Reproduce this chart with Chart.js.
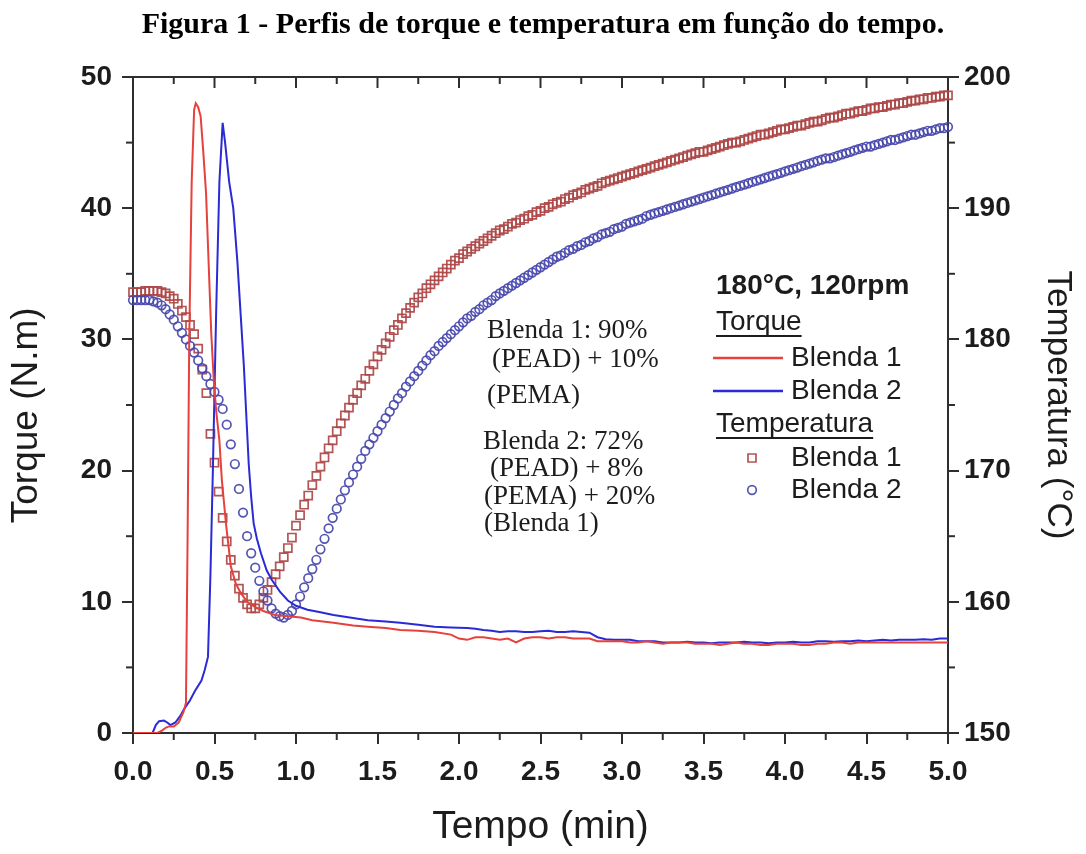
<!DOCTYPE html>
<html><head><meta charset="utf-8">
<script src="https://cdn.jsdelivr.net/npm/chart.js@4.4.1/dist/chart.umd.min.js"></script>
<style>html,body{margin:0;padding:0;background:#fff;}canvas{display:block;}</style>
</head><body>
<canvas id="c" width="1086" height="854"></canvas>
<script>
// ---------- DATA ----------
// Torque (N.m) – Blenda 1
const torqueB1Time = [0,0.15,0.18,0.2,0.22,0.25,0.28,0.31,0.325,0.335,0.345,0.36,0.375,0.385,0.4,0.415,0.43,0.448,0.465,0.48,0.495,0.51,0.53,0.545,0.57,0.6,0.63,0.66,0.7,0.75,0.8,0.87,0.95,1.03,1.1,1.23,1.35,1.44,1.55,1.64,1.75,1.85,1.95,
2.0,2.05,2.1,2.15,2.2,2.25,2.3,2.35,2.4,2.45,2.5,2.55,2.6,2.65,2.7,2.75,2.8,2.85,2.9,2.95,3.0,3.05,3.1,3.15,3.2,3.25,3.3,3.35,3.4,3.45,3.5,3.55,3.6,3.65,3.7,3.75,3.8,3.85,3.9,3.95,4.0,4.05,4.1,4.15,4.2,4.25,4.3,4.35,4.4,4.45,4.5,4.55,4.6,4.65,4.7,4.75,4.8,4.85,4.9,4.95,5.0];
const torqueB1 = [0,0,0.2,0.4,0.5,0.5,0.8,1.6,2.3,15,30,42,47.5,48.0,47.7,47.0,44.5,41.2,35.5,30.5,27,24.6,22.3,19.3,16.0,12.7,11.4,10.7,10.0,9.6,9.3,9.0,8.9,8.8,8.6,8.4,8.2,8.1,8.0,7.85,7.8,7.7,7.5,
7.2,7.1,7.3,7.3,7.2,7.1,7.2,6.9,7.2,7.3,7.3,7.2,7.3,7.3,7.2,7.2,7.2,7.0,7.0,7.0,7.0,6.9,6.9,7.0,6.9,6.8,6.9,6.9,6.9,6.8,6.8,6.8,6.7,6.8,6.9,6.8,6.8,6.7,6.7,6.8,6.8,6.8,6.7,6.7,6.8,6.8,6.9,6.9,6.8,6.9,6.9,6.9,6.9,6.9,6.9,6.9,6.9,6.9,6.9,6.9,6.9];
// Torque (N.m) – Blenda 2
const torqueB2Time = [0,0.12,0.14,0.16,0.19,0.21,0.23,0.26,0.29,0.31,0.35,0.38,0.42,0.44,0.46,0.475,0.49,0.51,0.53,0.55,0.565,0.59,0.615,0.64,0.66,0.68,0.7,0.71,0.725,0.74,0.76,0.785,0.82,0.85,0.9,0.95,1.0,1.07,1.15,1.23,1.33,1.44,1.55,1.64,1.75,1.85,1.95,
2.05,2.1,2.15,2.2,2.25,2.3,2.35,2.4,2.45,2.5,2.55,2.6,2.65,2.7,2.75,2.8,2.85,2.9,2.95,3.0,3.05,3.1,3.15,3.2,3.25,3.3,3.35,3.4,3.45,3.5,3.55,3.6,3.65,3.7,3.75,3.8,3.85,3.9,3.95,4.0,4.05,4.1,4.15,4.2,4.25,4.3,4.35,4.4,4.45,4.5,4.55,4.6,4.65,4.7,4.75,4.8,4.85,4.9,4.95,5.0];
const torqueB2 = [0,0,0.6,0.9,0.95,0.8,0.6,0.8,1.3,1.75,2.5,3.2,4.0,4.8,5.8,12,20,32,42,46.5,45.0,42.0,40.0,36,32,28,23,20.5,18,16.0,14.8,13.7,12.4,11.7,10.8,10.1,9.7,9.4,9.2,9.0,8.8,8.6,8.5,8.4,8.25,8.1,8.05,
8.0,7.95,7.85,7.8,7.7,7.75,7.75,7.7,7.7,7.75,7.8,7.7,7.7,7.75,7.7,7.65,7.3,7.15,7.1,7.1,7.1,7.0,7.0,7.0,6.9,6.9,6.9,6.95,6.9,6.9,6.85,6.9,6.9,6.9,6.95,6.9,6.9,6.85,6.9,6.9,6.95,6.9,6.9,7.0,7.0,6.95,7.0,7.0,7.05,7.0,7.05,7.1,7.05,7.1,7.1,7.1,7.15,7.1,7.2,7.2];
// Temperatura (°C) sampled every 0.025 min from 0 to 5 min
const tempTime = Array.from({length:201}, (_, i) => i * 0.025);
const tempB1 = [183.6,183.6,183.6,183.7,183.7,183.7,183.7,183.6,183.5,183.3,
183.1,182.7,182.2,181.7,181.1,180.4,179.3,177.7,175.9,172.8,
170.6,168.4,166.4,164.6,163.2,162.0,161.0,160.3,159.8,159.5,
159.5,159.8,160.3,160.9,161.5,162.1,162.7,163.4,164.1,164.9,
165.8,166.6,167.4,168.1,168.9,169.6,170.3,171.0,171.7,172.3,
173.0,173.6,174.2,174.8,175.4,175.9,176.5,177.0,177.6,178.1,
178.7,179.2,179.7,180.2,180.7,181.1,181.6,182.0,182.4,182.8,
183.2,183.5,183.9,184.2,184.5,184.8,185.1,185.4,185.7,186.0,
186.2,186.5,186.7,186.9,187.1,187.3,187.5,187.7,187.9,188.1,
188.3,188.4,188.6,188.8,188.9,189.1,189.2,189.4,189.5,189.7,
189.8,190.0,190.1,190.3,190.4,190.5,190.7,190.8,191.0,191.1,
191.2,191.4,191.5,191.6,191.7,191.9,192.0,192.1,192.2,192.3,
192.4,192.5,192.6,192.7,192.8,192.9,193.0,193.1,193.2,193.3,
193.4,193.5,193.6,193.7,193.8,193.9,194.0,194.1,194.2,194.3,
194.3,194.4,194.5,194.6,194.7,194.8,194.9,195.0,195.0,195.1,
195.2,195.3,195.4,195.5,195.6,195.6,195.7,195.8,195.9,196.0,
196.0,196.1,196.2,196.3,196.3,196.4,196.5,196.6,196.6,196.7,
196.8,196.9,196.9,197.0,197.1,197.2,197.2,197.3,197.4,197.4,
197.5,197.6,197.6,197.7,197.7,197.8,197.9,197.9,198.0,198.0,
198.1,198.2,198.2,198.3,198.3,198.4,198.4,198.5,198.5,198.6,
198.6];
const tempB2 = [183.0,183.0,183.0,183.0,183.0,182.9,182.8,182.6,182.3,181.9,
181.5,181.0,180.5,180.0,179.5,179.0,178.4,177.8,177.2,176.6,
176.0,175.4,174.7,173.5,172.0,170.5,168.6,166.8,165.0,163.7,
162.6,161.6,160.8,160.1,159.5,159.1,158.9,158.8,159.0,159.3,
159.8,160.4,161.1,161.8,162.5,163.2,164.0,164.8,165.6,166.4,
167.1,167.8,168.5,169.1,169.7,170.3,170.9,171.5,172.0,172.5,
173.0,173.5,174.0,174.5,175.0,175.5,175.9,176.4,176.8,177.2,
177.6,178.0,178.4,178.8,179.1,179.5,179.8,180.1,180.4,180.7,
181.0,181.3,181.6,181.8,182.1,182.3,182.6,182.8,183.0,183.3,
183.5,183.7,183.9,184.1,184.3,184.5,184.7,184.9,185.1,185.3,
185.5,185.7,185.9,186.1,186.3,186.4,186.6,186.8,186.9,187.1,
187.2,187.4,187.5,187.7,187.8,188.0,188.1,188.2,188.4,188.5,
188.6,188.8,188.9,189.0,189.1,189.2,189.4,189.5,189.6,189.7,
189.8,189.9,190.0,190.1,190.2,190.3,190.4,190.5,190.6,190.7,
190.8,190.9,191.0,191.1,191.2,191.3,191.4,191.5,191.6,191.7,
191.8,191.9,192.0,192.1,192.2,192.3,192.4,192.5,192.6,192.7,
192.8,192.9,193.0,193.1,193.2,193.3,193.4,193.5,193.6,193.7,
193.8,193.8,193.9,194.0,194.1,194.2,194.3,194.4,194.5,194.6,
194.7,194.7,194.8,194.9,195.0,195.1,195.2,195.2,195.3,195.4,
195.5,195.6,195.6,195.7,195.8,195.9,195.9,196.0,196.1,196.1,
196.2];
// Tick definitions
const xMinorTicks = [0.25,0.75,1.25,1.75,2.25,2.75,3.25,3.75,4.25,4.75];
const xMajorTicks = [0,0.5,1,1.5,2,2.5,3,3.5,4,4.5,5];
const yMinorTicks = [5,15,25,35,45];
const y1MinorTicks = [155,165,175,185,195];
const seriesNames = ['Blenda 1','Blenda 2'];
const annotationLines = ['Blenda 1: 90%','(PEAD) + 10%','(PEMA)','Blenda 2: 72%','(PEAD) + 8%','(PEMA) + 20%','(Blenda 1)'];

// ---------- STYLE ----------
const AXIS = '#2e2e2e';
const TXT = '#1c1c1c';
const RED_LINE = '#e6413b', BLUE_LINE = '#2a2ad6';
const RED_MK = 'rgba(172,70,70,0.92)', BLUE_MK = 'rgba(70,70,172,0.92)';
const SANS = '"Liberation Sans", Arial, sans-serif';
const SERIF = '"Liberation Serif", "Times New Roman", serif';

const pairs = (xs, ys) => xs.map((t, i) => ({x: t, y: ys[i]}));

const decor = {
  id: 'decor',
  afterDraw(chart) {
    const {ctx, chartArea: a, scales: {x, y, y1}} = chart;
    ctx.save();
    ctx.strokeStyle = AXIS; ctx.lineWidth = 2; ctx.lineCap = 'butt';
    const seg = (x0, y0, x1, y1_) => { ctx.beginPath(); ctx.moveTo(x0, y0); ctx.lineTo(x1, y1_); ctx.stroke(); };
    seg(a.left - 1, a.top, a.right + 1, a.top);
    xMinorTicks.forEach(v => { const p = x.getPixelForValue(v); seg(p, a.bottom, p, a.bottom + 7); seg(p, a.top, p, a.top + 7); });
    xMajorTicks.forEach(v => { const p = x.getPixelForValue(v); seg(p, a.top, p, a.top + 11); });
    yMinorTicks.forEach(v => { const p = y.getPixelForValue(v); seg(a.left - 7, p, a.left, p); });
    y1MinorTicks.forEach(v => { const p = y1.getPixelForValue(v); seg(a.right, p, a.right + 7, p); });

    // annotation (serif text)
    ctx.fillStyle = TXT; ctx.textBaseline = 'middle'; ctx.textAlign = 'left';
    ctx.font = '27px ' + SERIF;
    const annPos = [[487,331],[492,360],[487,396],[483,442],[490,469],[484,497],[484,524]];
    annotationLines.forEach((s, i) => ctx.fillText(s, annPos[i][0], annPos[i][1]));

    // legend
    const lx = 716;
    ctx.font = 'bold 28px ' + SANS;
    ctx.fillText('180°C, 120rpm', lx, 286);
    ctx.font = '28px ' + SANS;
    const underline = (s, yy) => {
      ctx.fillText(s, lx, yy);
      const w = ctx.measureText(s).width;
      ctx.fillRect(lx, yy + 13, w, 2);
    };
    underline('Torque', 322);
    ctx.lineWidth = 2.5;
    ctx.strokeStyle = RED_LINE; seg(713, 358, 783, 358);
    ctx.strokeStyle = BLUE_LINE; seg(713, 391, 783, 391);
    ctx.fillText(seriesNames[0], 791, 358);
    ctx.fillText(seriesNames[1], 791, 391);
    underline('Temperatura', 424);
    ctx.strokeStyle = RED_MK; ctx.lineWidth = 1.7;
    ctx.beginPath(); ctx.rect(748, 454, 8, 8); ctx.stroke();
    ctx.strokeStyle = BLUE_MK;
    ctx.beginPath(); ctx.arc(752, 490, 4.3, 0, Math.PI * 2); ctx.stroke();
    ctx.fillStyle = TXT;
    ctx.fillText(seriesNames[0], 791, 458);
    ctx.fillText(seriesNames[1], 791, 490);
    ctx.restore();
  }
};

const tickFont = {family: SANS, weight: 'bold', size: 28};
const gridCfg = {drawOnChartArea: false, drawTicks: true, tickLength: 11, color: AXIS, lineWidth: 2};
const borderCfg = {display: true, color: AXIS, width: 2};

new Chart(document.getElementById('c'), {
  type: 'line',
  data: {
    datasets: [
      {label: 'Torque ' + seriesNames[0], data: pairs(torqueB1Time, torqueB1), yAxisID: 'y', borderColor: RED_LINE, borderWidth: 2, pointRadius: 0, tension: 0, order: 0},
      {label: 'Torque ' + seriesNames[1], data: pairs(torqueB2Time, torqueB2), yAxisID: 'y', borderColor: BLUE_LINE, borderWidth: 2, pointRadius: 0, tension: 0, order: 0},
      {label: 'Temperatura ' + seriesNames[0], data: pairs(tempTime, tempB1), yAxisID: 'y1', showLine: false, pointStyle: 'rect', pointRadius: 5.7, pointBorderWidth: 1.7, pointBorderColor: RED_MK, pointBackgroundColor: 'rgba(255,255,255,0)', clip: false, order: 2},
      {label: 'Temperatura ' + seriesNames[1], data: pairs(tempTime, tempB2), yAxisID: 'y1', showLine: false, pointStyle: 'circle', pointRadius: 4.3, pointBorderWidth: 1.7, pointBorderColor: BLUE_MK, pointBackgroundColor: 'rgba(255,255,255,0)', clip: false, order: 1}
    ]
  },
  options: {
    responsive: false, animation: false, devicePixelRatio: 1, events: [],
    layout: {padding: 0},
    plugins: {
      legend: {display: false}, tooltip: {enabled: false},
      title: {display: true, text: 'Figura 1 - Perfis de torque e temperatura em função do tempo.', color: '#000',
        font: {family: SERIF, weight: 'bold', size: 30, lineHeight: 1.2}, padding: {top: 7, bottom: 34}}
    },
    scales: {
      x: {type: 'linear', position: 'bottom', min: 0, max: 5,
        ticks: {stepSize: 0.5, callback: v => v.toFixed(1), font: tickFont, color: TXT, padding: 11, maxRotation: 0},
        grid: gridCfg, border: borderCfg,
        title: {display: true, text: 'Tempo (min)', color: TXT, font: {family: SANS, size: 39, lineHeight: 1.2}, padding: {top: 0, bottom: 3}},
        afterFit: s => { s.height = 121; }},
      y: {type: 'linear', position: 'left', min: 0, max: 50,
        ticks: {stepSize: 10, font: tickFont, color: TXT, padding: 10},
        grid: gridCfg, border: borderCfg,
        title: {display: true, text: 'Torque (N.m)  ', color: TXT, font: {family: SANS, size: 37, lineHeight: 1.2}, padding: {top: 5, bottom: 0}},
        afterFit: s => { s.width = 133; }},
      y1: {type: 'linear', position: 'right', min: 150, max: 200,
        ticks: {stepSize: 10, font: tickFont, color: TXT, padding: 5},
        grid: gridCfg, border: borderCfg,
        title: {display: true, text: 'Temperatura (°C)', color: TXT, font: {family: SANS, size: 35, lineHeight: 1.2}, padding: {top: 7, bottom: 0}},
        afterFit: s => { s.width = 138; }}
    }
  },
  plugins: [decor]
});
</script>
</body></html>
